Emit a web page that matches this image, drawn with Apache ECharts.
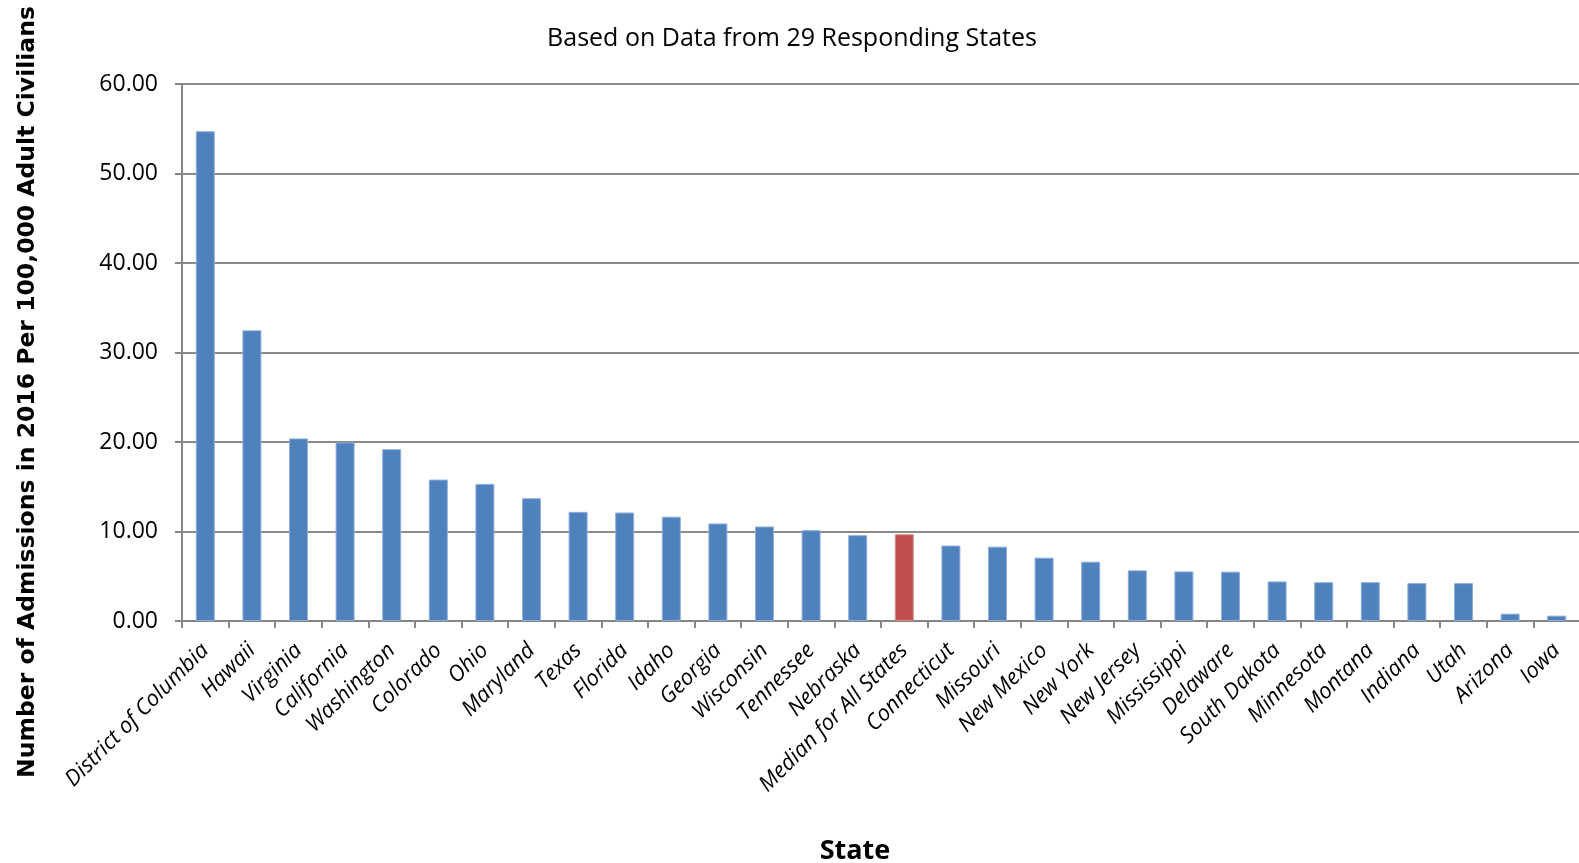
<!DOCTYPE html>
<html><head><meta charset="utf-8">
<script src="https://cdn.jsdelivr.net/npm/echarts@6/dist/echarts.min.js"></script>
<style>html,body{margin:0;padding:0;background:#fff}#c{width:1579px;height:863px}</style>
</head><body><div id="c"></div>
<script>
const states = ["District of Columbia","Hawaii","Virginia","California","Washington","Colorado","Ohio","Maryland","Texas","Florida","Idaho","Georgia","Wisconsin","Tennessee","Nebraska","Median for All States","Connecticut","Missouri","New Mexico","New York","New Jersey","Mississippi","Delaware","South Dakota","Minnesota","Montana","Indiana","Utah","Arizona","Iowa"];
const admissions = [54.72,32.48,20.40,19.95,19.20,15.80,15.32,13.72,12.20,12.12,11.66,10.90,10.56,10.15,9.59,9.70,8.43,8.31,7.08,6.63,5.66,5.54,5.51,4.42,4.34,4.34,4.23,4.23,0.82,0.60];
const medianLabel = "Median for All States";
const yTicks = {min:0, max:60, interval:10};
const titleText = 'Based on Data from 29 Responding States';
const yName = 'Number of Admissions in 2016 Per 100,000 Adult Civilians';
const xName = 'State';

const chart = echarts.init(document.getElementById('c'), null, {renderer:'canvas'});
chart.setOption({
  animation:false,
  backgroundColor:'#ffffff',
  title:{text:titleText, left:787, top:21, textAlign:'center',
    textStyle:{fontFamily:"'Open Sans',sans-serif", fontWeight:'normal', fontSize:25, color:'#000'}},
  grid:{left:182, right:-1, top:84, bottom:242, containLabel:false, outerBoundsMode:'none'},
  xAxis:{type:'category', data:states, boundaryGap:true,
    axisLine:{lineStyle:{color:'#868686', width:2}},
    axisTick:{show:true, alignWithLabel:false, length:7, lineStyle:{color:'#868686', width:2}},
    axisLabel:{rotate:45, interval:0, margin:26, fontFamily:"'Open Sans',sans-serif", fontStyle:'italic', fontSize:22, color:'#000'}
  },
  yAxis:{type:'value', min:yTicks.min, max:yTicks.max, interval:yTicks.interval,
    axisLine:{show:true, lineStyle:{color:'#868686', width:2}},
    axisTick:{show:true, length:7, lineStyle:{color:'#868686', width:2}},
    splitLine:{lineStyle:{color:'#8a8a8a', width:2}},
    axisLabel:{margin:24, formatter:v=>v.toFixed(2), fontFamily:"'Open Sans',sans-serif", fontSize:23, color:'#000'}
  },
  graphic:[
    {type:'text', x:28, y:392, rotation:Math.PI/2,
      style:{text:yName, align:'center', verticalAlign:'middle', fill:'#000',
        font:"bold 23.5px 'DejaVu Sans', sans-serif"}},
    {type:'text', x:855, y:851,
      style:{text:xName, align:'center', verticalAlign:'middle', fill:'#000',
        font:"bold 27px 'Open Sans', sans-serif"}}
  ],
  series:[{type:'bar', barWidth:19,
    data:admissions.map((v,i)=>({value:v, itemStyle:{color: states[i]===medianLabel ? '#C0504D' : '#4F81BD',
      borderColor: states[i]===medianLabel ? '#D6908E' : '#8FAEDA', borderWidth:1}}))}]
});
</script></body></html>
